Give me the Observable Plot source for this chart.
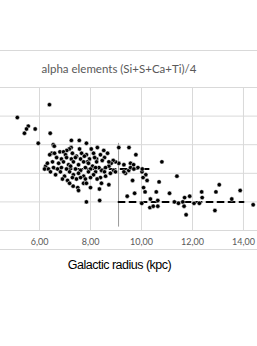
<!DOCTYPE html>
<html>
<head>
<meta charset="utf-8">
<script src="https://cdn.jsdelivr.net/npm/d3@7"></script>
<script src="https://cdn.jsdelivr.net/npm/@observablehq/plot@0.6"></script>
<style>
  html, body { margin: 0; padding: 0; background: #fff; }
  #wrap { position: relative; width: 257px; height: 346px; overflow: hidden; }
  .hline { position: absolute; left: 0; width: 257px; height: 0; border-top: 1px solid #d9d9d9; }
  .xlab { letter-spacing: -0.5px; }
</style>
</head>
<body>
<div id="wrap">
  <div id="chart"></div>
  <div class="hline" style="top:50px"></div>
  <div class="hline" style="top:249px"></div>
</div>
<script>
// Galactic radius (kpc) and alpha-element abundance (dex)
const radius = [
  6.39,5.13,5.56,5.49,5.83,5.41,6.42,5.95,6.54,7.25,7.56,7.84,
  10.80,11.39,11.10,11.29,11.45,11.62,11.69,11.89,11.67,11.75,12.06,12.27,12.38,12.36,12.88,12.92,13.05,13.54,13.87,14.38,
  9.11,9.51,9.78,8.52,9.57,9.69,9.86,10.02,10.17,10.06,10.22,9.65,10.69,10.08,10.14,9.73,10.58,9.44,10.35,10.64,10.01,10.33,10.46,10.64,
  7.84,8.36,9.50,9.57,9.70,9.37,9.31,9.11,8.98,8.89,8.81,8.72,8.59,8.43,8.55,8.91,8.98,8.55,9.31,10.03,
  8.39,8.43,8.72,8.35,8.78,8.59,8.26,8.24,8.46,8.72,8.33,8.20,
  6.58,7.24,7.17,7.07,8.03,7.57,8.27,6.48,6.59,6.80,6.94,7.02,7.29,7.45,7.65,7.84,8.12,8.39,6.40,8.67,
  6.67,6.86,7.06,7.25,7.41,7.61,7.76,7.96,8.16,7.88,
  6.24,6.31,6.51,6.75,6.94,7.14,7.33,7.53,7.73,7.92,8.08,8.24,
  6.20,6.35,6.55,6.71,6.86,7.06,7.22,7.41,7.61,7.80,8.00,8.20,
  6.43,6.63,6.82,6.98,7.18,7.33,7.53,7.73,7.92,8.12,
  6.90,7.10,7.29,7.45,7.61,7.80,8.00,
  7.32,7.50,7.53,7.73,8.00,7.18,7.84
];
const alpha = [
  0.28,0.19,0.13,0.11,0.11,0.08,0.08,0.01,0.00,0.03,0.03,0.01,
  -0.12,-0.22,-0.34,-0.40,-0.41,-0.40,-0.37,-0.36,-0.43,-0.49,-0.41,-0.41,-0.37,-0.33,-0.46,-0.33,-0.28,-0.38,-0.32,-0.42,
  -0.02,-0.02,-0.07,-0.04,-0.13,-0.14,-0.16,-0.19,-0.21,-0.23,-0.25,-0.25,-0.26,-0.30,-0.33,-0.34,-0.33,-0.36,-0.38,-0.39,-0.41,-0.44,-0.43,-0.43,
  -0.40,-0.39,-0.18,-0.16,-0.17,-0.20,-0.14,-0.13,-0.12,-0.11,-0.13,-0.15,-0.16,-0.18,-0.19,-0.18,-0.19,-0.09,-0.19,-0.17,
  -0.23,-0.27,-0.28,-0.31,-0.20,-0.22,-0.24,-0.10,-0.11,-0.12,-0.16,-0.19,
  -0.01,-0.02,-0.03,-0.04,-0.03,-0.03,-0.02,-0.06,-0.06,-0.05,-0.05,-0.07,-0.06,-0.08,-0.06,-0.07,-0.06,-0.07,-0.07,-0.06,
  -0.09,-0.10,-0.09,-0.10,-0.09,-0.10,-0.08,-0.10,-0.09,-0.12,
  -0.15,-0.13,-0.12,-0.13,-0.12,-0.14,-0.12,-0.14,-0.12,-0.13,-0.15,-0.12,
  -0.17,-0.17,-0.16,-0.17,-0.16,-0.17,-0.15,-0.17,-0.18,-0.16,-0.17,-0.16,
  -0.19,-0.21,-0.19,-0.22,-0.19,-0.21,-0.20,-0.22,-0.19,-0.21,
  -0.24,-0.25,-0.23,-0.24,-0.23,-0.24,-0.23,
  -0.29,-0.30,-0.32,-0.27,-0.30,-0.27,-0.27
];
// Two-zone fit (inner / outer) and the break radius
const fitInnerR = [6.16, 10.35];
const fitInnerA = [-0.17, -0.17];
const fitOuterR = [9.10, 14.00];
const fitOuterA = [-0.40, -0.40];
const breakR = [9.10];
const breakA = [0.01, -0.57];

const xTicks = [6, 8, 10, 12, 14];
const yTicks = [0.4, 0.2, 0, -0.2, -0.4, -0.6];
const titleText = "alpha elements (Si+S+Ca+Ti)/4";
const xLabel = "Galactic radius (kpc)";

const stars = radius.map((r, i) => ({r, a: alpha[i]}));
const inner = fitInnerR.map((r, i) => ({r, a: fitInnerA[i]}));
const outer = fitOuterR.map((r, i) => ({r, a: fitOuterA[i]}));
const brk = breakA.map(a => ({r: breakR[0], a}));

const chart = Plot.plot({
  width: 257,
  height: 346,
  marginTop: 87,
  marginBottom: 116,
  marginLeft: 0,
  marginRight: 0,
  style: {background: "transparent", fontFamily: "Lato, 'Open Sans', sans-serif"},
  x: {domain: [4.47, 14.55], ticks: xTicks, label: null},
  y: {domain: [-0.6, 0.4], ticks: yTicks, label: null, axis: null},
  marks: [
    Plot.gridX(xTicks, {stroke: "#d9d9d9", strokeOpacity: 1}),
    Plot.gridY(yTicks, {stroke: "#d9d9d9", strokeOpacity: 1}),
    Plot.axisX(xTicks, {tickSize: 0, tickPadding: 8, fontSize: 9, fill: "#595959",
      tickFormat: d => d.toFixed(2).replace(".", ","), label: null}),
    Plot.line(brk, {x: "r", y: "a", stroke: "#9a9a9a", strokeWidth: 1}),
    Plot.line(inner, {x: "r", y: "a", stroke: "#000", strokeWidth: 2, strokeDasharray: "6,5"}),
    Plot.line(outer, {x: "r", y: "a", stroke: "#000", strokeWidth: 2, strokeDasharray: "6,5"}),
    Plot.dot(stars, {x: "r", y: "a", r: 2.2, fill: "#000", stroke: "#fff", strokeWidth: 0.5}),
    Plot.text([titleText], {frameAnchor: "top", dy: -23, dx: -10, text: d => d,
      fontSize: 11.5, fill: "#595959", fontFamily: "Lato, 'Open Sans', sans-serif"}),
    Plot.text([xLabel], {frameAnchor: "bottom", dy: 38, dx: -9.5, text: d => d,
      className: "xlab",
      fontSize: 12.5, fill: "#000", fontFamily: "'Liberation Sans', Arial, sans-serif"})
  ]
});
document.getElementById("chart").appendChild(chart);
</script>
</body>
</html>
